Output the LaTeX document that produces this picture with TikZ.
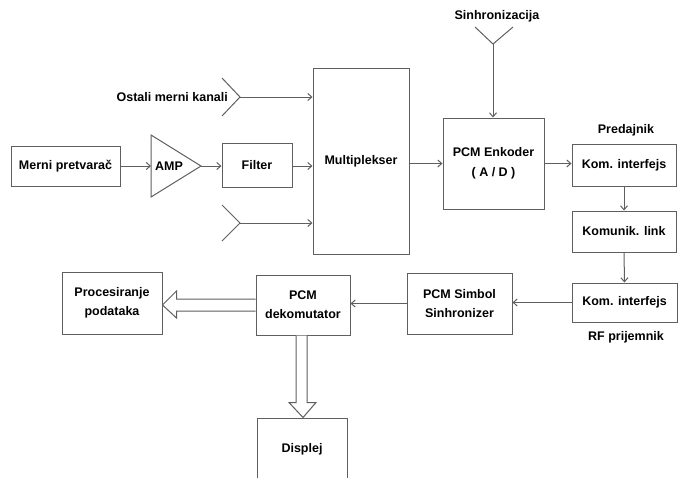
\documentclass[tikz,border=0pt]{standalone}
\usepackage{fontspec}
\setmainfont{Liberation Sans}
\usetikzlibrary{arrows.meta,calc}
\definecolor{linegray}{RGB}{95,95,95}
\begin{document}
\begin{tikzpicture}[x=1pt,y=-1pt]
		\tikzstyle{all} = [draw=linegray, line width=1pt, align=center, font=\bfseries\fontsize{12.5}{19}\selectfont]
		\tikzstyle{block} = [rectangle, all, inner sep=0pt]
		\tikzstyle{txt} = [font=\bfseries\fontsize{12.5}{15}\selectfont, inner sep=0pt]
		\tikzstyle{arr} = [draw=linegray, line width=1pt, -{Straight Barb[length=4pt,width=7pt]}]
		\tikzstyle{ln} = [draw=linegray, line width=1pt]
		\tikzstyle{fat} = [draw=linegray, line width=1pt, fill=white, line join=miter]
		\useasboundingbox (0,0) rectangle (685,477);
		\clip (0,0) rectangle (685,477);
		% blocks
		\node[block, minimum width=109, minimum height=40] (mp) at (65.5,166) {Merni pretvara\v{c}};
		\node[block, minimum width=70, minimum height=44] (filter) at (257,165) {Filter};
		\node[block, minimum width=96, minimum height=186] (mux) at (361,161) {Multiplekser};
		\node[block, minimum width=101, minimum height=91] (enc) at (493.5,163.5) {PCM Enkoder\\[1pt]( A / D )};
		\node[block, minimum width=104, minimum height=42] (ki1) at (624,165) {Kom. interfejs};
		\node[block, minimum width=104, minimum height=41] (link) at (624,231.5) {Komunik. link};
		\node[block, minimum width=105, minimum height=39] (ki2) at (624.5,302.5) {Kom. interfejs};
		\node[block, minimum width=105, minimum height=61] (sym) at (459.5,303.5) {PCM Simbol\\Sinhronizer};
		\node[block, minimum width=94, minimum height=60] (dek) at (303,305) {PCM\\dekomutator};
		\node[block, minimum width=100, minimum height=62] (proc) at (112,303) {Procesiranje\\podataka};
		\node[block, minimum width=90, minimum height=62] (disp) at (302,449) {Displej};
		% labels
		\node[txt, anchor=east] (ostali) at (228,97) {Ostali merni kanali};
		\node[txt] (sinh) at (497,16) {Sinhronizacija};
		\node[txt] (pred) at (626,130) {Predajnik};
		\node[txt] (rf) at (626,337) {RF prijemnik};
		% amplifier
		\draw[ln] (151,135) -- (201,166) -- (151,197) -- cycle;
		\node[txt] (amp) at (169,166) {AMP};
		\coordinate (ampin) at (151,166);
		\coordinate (ampout) at (201,166);
		% open inputs
		\coordinate (in1) at (240,97);
		\coordinate (in2) at (240,223);
		\coordinate (in3) at (493,44);
		\draw[ln] (222,78) -- (in1) -- (222,116);
		\draw[ln] (222,205) -- (in2) -- (222,241);
		\draw[ln] (475,27) -- (in3) -- (513,27);
		% connectors
		\draw[arr] (mp.east) -- (ampin);
		\draw[arr] (ampout) -- (filter.west |- ampout);
		\draw[arr] (filter.east |- ampout) -- (mux.west |- ampout);
		\draw[arr] (in1) -- (in1 -| mux.west);
		\draw[arr] (in2) -- (in2 -| mux.west);
		\draw[arr] (mux.east |- enc.west) -- (enc.west);
		\draw[arr] (in3) -- (in3 |- enc.north);
		\draw[arr] (enc.east) -- (enc.east -| ki1.west);
		\draw[arr] (ki1.south) -- (link.north);
		\draw[arr] (link.south) -- (ki2.north);
		\draw[arr] (ki2.west) -- (ki2.west -| sym.east);
		\draw[arr] (sym.west) -- (sym.west -| dek.east);
		% wide arrows
		\draw[fat] ($(dek.west)+(0,-6)$) -- ($(proc.east |- dek.west)+(14,-6)$) -- ($(proc.east |- dek.west)+(14,-14)$)
			-- (proc.east |- dek.west) -- ($(proc.east |- dek.west)+(14,13)$) -- ($(proc.east |- dek.west)+(14,6)$) -- ($(dek.west)+(0,6)$);
		\draw[fat] ($(dek.south)+(-7,0)$) -- ($(dek.south |- disp.north)+(-7,-15)$) -- ($(dek.south |- disp.north)+(-14,-15)$)
			-- (dek.south |- disp.north) -- ($(dek.south |- disp.north)+(13,-15)$) -- ($(dek.south |- disp.north)+(4,-15)$) -- ($(dek.south)+(4,0)$);
		\end{tikzpicture}
\end{document}
